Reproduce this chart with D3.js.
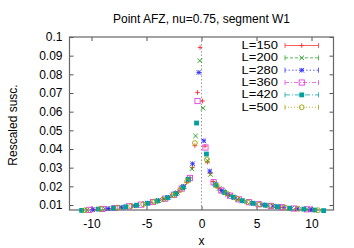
<!DOCTYPE html>
<html>
<head>
<meta charset="utf-8">
<script src="https://cdn.jsdelivr.net/npm/d3@7"></script>
<style>
  body { margin: 0; background: #fff; }
  text { font-family: "Liberation Sans", Arial, sans-serif; }
</style>
</head>
<body>
<svg id="chart"></svg>
<script>
// scaling collapse, one list of [x, susc] per system size
const L150 = [[-3.5,0.0131],[-4.6,0.0114],[-5.8,0.0099],[-7.0,0.0089],[-8.4,0.0081],[-9.8,0.0076],
  [-2.4,0.0158],[-2.1,0.0170],[-1.85,0.0186],[-1.6,0.0201],[-1.35,0.0222],[-1.05,0.0245],[-0.83,0.0300],
  [-0.6,0.0418],[-0.36,0.0703],[-0.13,0.0944],[0.09,0.0657],[0.32,0.0415],[0.55,0.0330],[0.80,0.0270],
  [1.05,0.0226],[1.28,0.0210],[1.52,0.0192],[1.76,0.0180],[2.0,0.0170],[2.25,0.0161],[2.5,0.0154],
  [3.4,0.0129],[4.6,0.0110],[5.9,0.0098],[7.2,0.0088],[8.6,0.0080],[10.0,0.0074]];
const L200 = [[-10.4,0.0073],[-8.8,0.0080],[-7.4,0.0087],[-6.2,0.0095],[-5.1,0.0107],[-4.2,0.0119],
  [-3.4,0.0132],[-2.7,0.0149],[-2.2,0.0167],[-1.6,0.0200],[-1.23,0.0232],[-0.87,0.0294],[-0.54,0.0470],
  [-0.15,0.0873],[0.15,0.0619],[0.54,0.0337],[0.82,0.0264],[1.2,0.0216],[1.6,0.0188],[2.0,0.0172],
  [2.6,0.0150],[3.3,0.0131],[4.1,0.0117],[5.0,0.0105],[6.0,0.0097],[7.0,0.0090],[8.2,0.0082],[9.6,0.0077]];
const L280 = [[-9.9,0.0075],[-8.5,0.0081],[-7.3,0.0088],[-6.1,0.0096],[-4.9,0.0110],[-3.9,0.0124],
  [-3.0,0.0141],[-2.3,0.0163],[-1.62,0.0199],[-1.2,0.0235],[-0.81,0.0321],[-0.24,0.0810],[0.21,0.0444],
  [0.75,0.0282],[1.3,0.0208],[1.85,0.0177],[2.4,0.0157],[3.0,0.0139],[3.7,0.0122],[4.6,0.0110],
  [5.5,0.0101],[6.5,0.0094],[7.5,0.0087],[8.7,0.0080],[9.9,0.0075]];
const L360 = [[-10.2,0.0074],[-9.0,0.0079],[-7.9,0.0084],[-6.6,0.0093],[-5.5,0.0102],[-4.4,0.0116],
  [-3.3,0.0134],[-2.5,0.0155],[-1.8,0.0188],[-1.05,0.0245],[-0.36,0.0657],[0.36,0.0408],[1.1,0.0222],
  [1.8,0.0178],[2.6,0.0150],[3.4,0.0130],[4.3,0.0115],[5.2,0.0104],[6.3,0.0095],[7.3,0.0088],
  [8.4,0.0081],[9.6,0.0077]];
const L420 = [[-10.9,0.0071],[-9.4,0.0078],[-8.0,0.0083],[-6.9,0.0090],[-5.9,0.0099],[-4.9,0.0109],
  [-4.0,0.0122],[-3.1,0.0139],[-2.35,0.0160],[-1.7,0.0193],[-1.2,0.0238],[-0.45,0.0539],[0.45,0.0373],
  [1.3,0.0207],[2.1,0.0167],[2.9,0.0142],[3.7,0.0123],[4.7,0.0109],[5.8,0.0099],[6.9,0.0091],
  [8.0,0.0083],[9.3,0.0078],[10.3,0.0073],[11.1,0.0070]];
const L500 = [[-10.6,0.0072],[-9.2,0.0079],[-7.6,0.0086],[-6.4,0.0094],[-5.3,0.0104],[-4.3,0.0118],
  [-3.5,0.0130],[-2.6,0.0152],[-1.95,0.0180],[-1.3,0.0228],[-0.6,0.0432],[0.48,0.0344],[1.4,0.0202],
  [2.3,0.0162],[3.2,0.0135],[4.2,0.0116],[5.3,0.0103],[6.4,0.0095],[7.6,0.0086],[8.8,0.0080],[10.6,0.0072]];

const seriesNames = ["L=150", "L=200", "L=280", "L=360", "L=420", "L=500"];
const seriesData = [L150, L200, L280, L360, L420, L500];
const seriesColors = ["#ff2a2a", "#1aa01a", "#2a2aff", "#e040e0", "#00a0a0", "#a0a000"];
const seriesDash = ["none", "3,2", "1.5,2", "4,2,1,2", "5,2,1,2", "1,2"];
const seriesMarks = ["plus", "cross", "star", "square", "fsquare", "circle"];

const xTicks = [-10, -5, 0, 5, 10];
const xTickLabels = ["-10", "-5", "0", "5", "10"];
const yTicks = [0.01, 0.02, 0.03, 0.04, 0.05, 0.06, 0.07, 0.08, 0.09, 0.1];
const yTickLabels = ["0.01", "0.02", "0.03", "0.04", "0.05", "0.06", "0.07", "0.08", "0.09", "0.1"];

const svgWidth = 354, svgHeight = 248;
const padding = { top: 37, right: 20.5, bottom: 38, left: 69.5 };

const svg = d3.select("#chart")
    .attr("width", svgWidth)
    .attr("height", svgHeight);

const xScale = d3.scaleLinear()
    .domain([-12, 12])
    .range([padding.left, svgWidth - padding.right]);
const yScale = d3.scaleLinear()
    .domain([0.00732, 0.1])
    .range([svgHeight - padding.bottom, padding.top]);

// gnuplot-like ticks: inward on all four sides
function styleAxis(g) {
    g.select(".domain").remove();
    g.selectAll(".tick line").attr("stroke", "#555");
    g.selectAll(".tick text").attr("fill", "#000").style("font-size", "12px");
}
svg.append("g")
    .attr("transform", `translate(0,${svgHeight - padding.bottom})`)
    .call(d3.axisBottom(xScale).tickValues(xTicks).tickSize(-4).tickPadding(9)
        .tickFormat((d, i) => xTickLabels[i]))
    .call(styleAxis);
svg.append("g")
    .attr("transform", `translate(0,${padding.top})`)
    .call(d3.axisTop(xScale).tickValues(xTicks).tickSize(-4).tickFormat(""))
    .call(styleAxis);
svg.append("g")
    .attr("transform", `translate(${padding.left},0)`)
    .call(d3.axisLeft(yScale).tickValues(yTicks).tickSize(-4).tickPadding(7)
        .tickFormat((d, i) => yTickLabels[i]))
    .call(styleAxis);
svg.append("g")
    .attr("transform", `translate(${svgWidth - padding.right},0)`)
    .call(d3.axisRight(yScale).tickValues(yTicks).tickSize(-4).tickFormat(""))
    .call(styleAxis);

// zero line
svg.append("line")
    .attr("x1", xScale(0)).attr("x2", xScale(0))
    .attr("y1", padding.top).attr("y2", svgHeight - padding.bottom)
    .attr("stroke", "#999")
    .attr("stroke-dasharray", "1.5,2");

// border
svg.append("rect")
    .attr("x", padding.left)
    .attr("y", padding.top)
    .attr("width", svgWidth - padding.left - padding.right)
    .attr("height", svgHeight - padding.top - padding.bottom)
    .attr("fill", "none")
    .attr("stroke", "#666")
    .attr("stroke-width", 1.2);

// draw a point marker at (cx, cy)
function drawMark(g, type, cx, cy, color) {
    const r = 2.3;
    if (type === "plus" || type === "star") {
        g.append("path").attr("d", `M${cx - r},${cy}H${cx + r}M${cx},${cy - r}V${cy + r}`)
            .attr("stroke", color).attr("stroke-width", 0.9).attr("fill", "none");
    }
    if (type === "cross" || type === "star") {
        g.append("path").attr("d", `M${cx - r},${cy - r}L${cx + r},${cy + r}M${cx - r},${cy + r}L${cx + r},${cy - r}`)
            .attr("stroke", color).attr("stroke-width", 0.9).attr("fill", "none");
    }
    if (type === "square") {
        g.append("rect").attr("x", cx - 2.6).attr("y", cy - 2.6).attr("width", 5.2).attr("height", 5.2)
            .attr("stroke", color).attr("stroke-width", 0.9).attr("fill", "none");
    }
    if (type === "fsquare") {
        g.append("rect").attr("x", cx - 2.4).attr("y", cy - 2.4).attr("width", 4.8).attr("height", 4.8)
            .attr("fill", color);
    }
    if (type === "circle") {
        g.append("circle").attr("cx", cx).attr("cy", cy).attr("r", 2.4)
            .attr("stroke", color).attr("stroke-width", 0.9).attr("fill", "none");
    }
}

// data points
seriesData.forEach((data, s) => {
    const g = svg.append("g").attr("class", "series-" + s);
    data.forEach(d => {
        drawMark(g, seriesMarks[s], xScale(d[0]), yScale(d[1]), seriesColors[s]);
    });
});

// legend
const legendX1 = 285, legendX2 = 318.5, legendTextX = 278;
seriesNames.forEach((name, s) => {
    const cy = 45.5 + s * 12.35;
    const g = svg.append("g");
    g.append("text")
        .attr("transform", `translate(${legendTextX},${cy + 3.4}) scale(1.08,0.88)`)
        .style("text-anchor", "end")
        .style("font-size", "12px")
        .text(name);
    g.append("line")
        .attr("x1", legendX1).attr("x2", legendX2)
        .attr("y1", cy).attr("y2", cy)
        .attr("stroke", seriesColors[s])
        .attr("stroke-opacity", 0.75)
        .attr("stroke-dasharray", seriesDash[s]);
    [legendX1, legendX2].forEach(x => {
        g.append("line")
            .attr("x1", x).attr("x2", x)
            .attr("y1", cy - 2.5).attr("y2", cy + 2.5)
            .attr("stroke", seriesColors[s])
            .attr("stroke-opacity", 0.75);
    });
    drawMark(g, seriesMarks[s], (legendX1 + legendX2) / 2, cy, seriesColors[s]);
});

// titles
svg.append("text")
    .attr("x", 201.5).attr("y", 23)
    .style("text-anchor", "middle")
    .style("font-size", "12px")
    .text("Point AFZ, nu=0.75, segment W1");

svg.append("text")
    .attr("x", 201.5).attr("y", 245)
    .style("text-anchor", "middle")
    .style("font-size", "12px")
    .text("x");

svg.append("text")
    .attr("transform", "rotate(-90)")
    .attr("x", -125)
    .attr("y", 17)
    .style("text-anchor", "middle")
    .style("font-size", "12px")
    .text("Rescaled susc.");
</script>
</body>
</html>
